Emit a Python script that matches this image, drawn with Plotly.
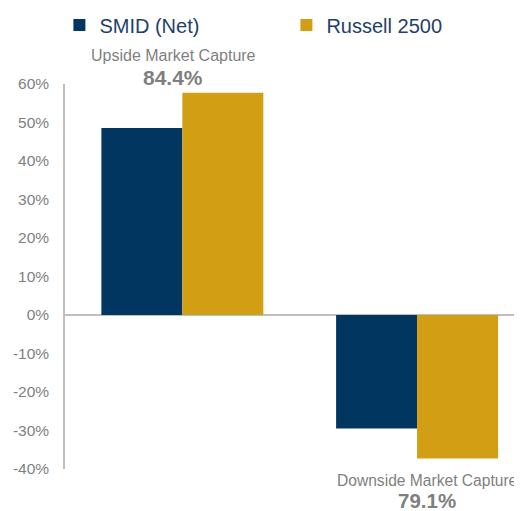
import plotly.graph_objects as go

categories = ["Upside Market Capture", "Downside Market Capture"]
smid_net = [0.486, -0.295]
russell_2500 = [0.577, -0.373]
capture_ratios = ["84.4%", "79.1%"]
tick_vals = [0.6, 0.5, 0.4, 0.3, 0.2, 0.1, 0.0, -0.1, -0.2, -0.3, -0.4]
tick_text = ["60%", "50%", "40%", "30%", "20%", "10%", "0%", "-10%", "-20%", "-30%", "-40%"]

x_pos = [0, 1]
navy = "#003660"
gold = "#D29F14"
grey = "#7F7F7F"
FONT = "Liberation Sans, Arial"

fig = go.Figure()
fig.add_trace(go.Bar(x=x_pos, y=smid_net, name="SMID (Net)", marker=dict(color=navy, line=dict(width=0))))
fig.add_trace(go.Bar(x=x_pos, y=russell_2500, name="Russell 2500", marker=dict(color=gold, line=dict(width=0))))

# category labels with capture ratios
fig.add_annotation(x=x_pos[0], y=1, yref="paper", yshift=29, xshift=-9, text=categories[0], showarrow=False,
                   font=dict(size=16, color=grey, family=FONT), yanchor="middle")
fig.add_annotation(x=x_pos[0], y=1, yref="paper", yshift=7, xshift=-9, text="<b>" + capture_ratios[0] + "</b>", showarrow=False,
                   font=dict(size=21, color=grey, family=FONT), yanchor="middle")
fig.add_annotation(x=x_pos[1], y=0, yref="paper", yshift=-11, xshift=10, text=categories[1], showarrow=False,
                   font=dict(size=15.6, color=grey, family=FONT), yanchor="middle")
fig.add_annotation(x=x_pos[1], y=0, yref="paper", yshift=-31, xshift=10, text="<b>" + capture_ratios[1] + "</b>", showarrow=False,
                   font=dict(size=20.5, color=grey, family=FONT), yanchor="middle", borderpad=0)

fig.update_layout(
    width=514, height=503,
    margin=dict(l=57, r=0, t=76, b=42, autoexpand=False),
    paper_bgcolor="white", plot_bgcolor="white",
    barmode="group", bargap=0.31, bargroupgap=0,
    font=dict(family=FONT, color=grey),
    showlegend=True,
    legend=dict(orientation="h", x=0.1, xanchor="left", y=1 - 17 / 503, yanchor="middle", yref="container",
                xref="container",
                font=dict(size=20, color="#1F3F6B"), entrywidth=182, entrywidthmode="pixels",
                itemclick=False, tracegroupgap=0),
    xaxis=dict(range=[-0.5, 1.447], showticklabels=False, showgrid=False, zeroline=False,
               showline=False, fixedrange=True),
    yaxis=dict(range=[-0.4, 0.6], tickvals=tick_vals, ticktext=tick_text, showgrid=False,
               zeroline=True, zerolinecolor="#BFBFBF", zerolinewidth=2,
               showline=True, linecolor="#BFBFBF", linewidth=1.5,
               ticks="outside", ticklen=11, tickcolor="rgba(0,0,0,0)",
               tickfont=dict(size=15.5, color=grey)),
)

fig.write_html("out.html")
